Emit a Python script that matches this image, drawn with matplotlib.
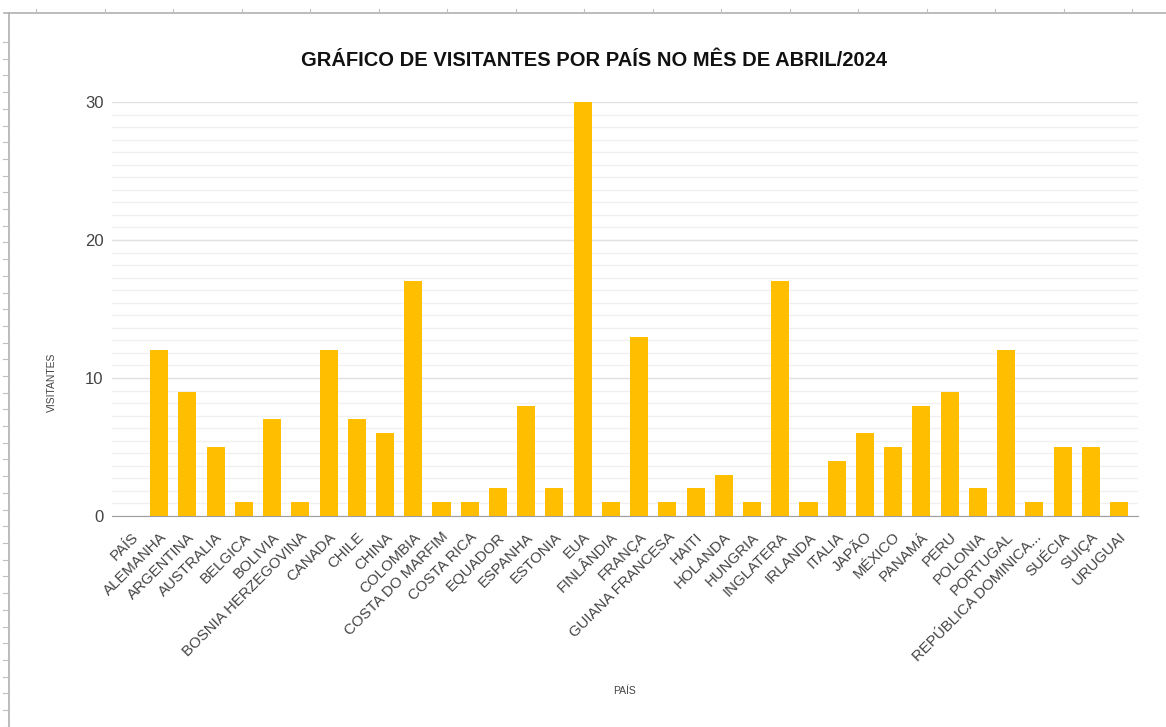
import matplotlib.pyplot as plt
from matplotlib.ticker import MultipleLocator, AutoMinorLocator
from matplotlib.lines import Line2D

plt.rcParams['font.family'] = ['Liberation Sans', 'DejaVu Sans']

# Dados
paises = ['PAÍS', 'ALEMANHA', 'ARGENTINA', 'AUSTRALIA', 'BELGICA', 'BOLIVIA',
          'BOSNIA HERZEGOVINA', 'CANADA', 'CHILE', 'CHINA', 'COLOMBIA',
          'COSTA DO MARFIM', 'COSTA RICA', 'EQUADOR', 'ESPANHA', 'ESTONIA',
          'EUA', 'FINLÂNDIA', 'FRANÇA', 'GUIANA FRANCESA', 'HAITI', 'HOLANDA',
          'HUNGRIA', 'INGLATERA', 'IRLANDA', 'ITALIA', 'JAPÃO', 'MÉXICO',
          'PANAMÁ', 'PERU', 'POLONIA', 'PORTUGAL', 'REPÚBLICA DOMINICA...',
          'SUÉCIA', 'SUIÇA', 'URUGUAI']
visitantes = [0, 12, 9, 5, 1, 7, 1, 12, 7, 6, 17, 1, 1, 2, 8, 2, 30, 1, 13, 1,
              2, 3, 1, 17, 1, 4, 6, 5, 8, 9, 2, 12, 1, 5, 5, 1]

W, H = 1166, 727
fig = plt.figure(figsize=(W / 100, H / 100), dpi=100)
ax = fig.add_axes([112 / W, 1 - 516 / H, (1138 - 112) / W, (516 - 102) / H])

x = range(len(paises))
ax.bar(x, visitantes, width=0.64, color='#ffbf00', zorder=3)

ax.set_xlim(-0.67, len(paises) - 1 + 0.67)
ax.set_ylim(0, 30)
ax.yaxis.set_major_locator(MultipleLocator(10))
ax.yaxis.set_minor_locator(AutoMinorLocator(11))
ax.grid(axis='y', which='major', color='#e0e0e0', linewidth=1, zorder=0)
ax.grid(axis='y', which='minor', color='#f0f0f0', linewidth=1, zorder=0)

for s in ['top', 'right', 'left']:
    ax.spines[s].set_visible(False)
ax.spines['bottom'].set_color('#9e9e9e')
ax.spines['bottom'].set_zorder(4)

ax.set_xticks(list(x))
ax.set_xticklabels(paises, rotation=45, ha='right', rotation_mode='anchor',
                   fontsize=10.8, color='#444444')
ax.tick_params(axis='x', length=0, pad=10)
ax.tick_params(axis='y', which='both', length=0, labelsize=12, labelcolor='#444444', pad=6)

# títulos
fig.text(594 / W, 1 - 60 / H, 'GRÁFICO DE VISITANTES POR PAÍS NO MÊS DE ABRIL/2024',
         ha='center', va='center', fontsize=14.5, fontweight='bold', color='#111111')
fig.text(625 / W, 1 - 691 / H, 'PAÍS', ha='center', va='center',
         fontsize=7.5, color='#444444')
fig.text(52 / W, 1 - 382 / H, 'VISITANTES', ha='center', va='center',
         rotation=90, fontsize=7.5, color='#444444')

# moldura da planilha
fig.add_artist(Line2D([4 / W, 1], [1 - 13 / H] * 2, color='#b0b0b0', linewidth=1.2))
fig.add_artist(Line2D([9 / W] * 2, [1 - 13 / H, 0], color='#b0b0b0', linewidth=1.2))
tx = 36
while tx < W:
    fig.add_artist(Line2D([tx / W] * 2, [1 - 9 / H, 1 - 13 / H], color='#c0c0c0', linewidth=0.8))
    tx += 68.5
ty = 42
while ty < H:
    fig.add_artist(Line2D([3 / W, 9 / W], [1 - ty / H] * 2, color='#c0c0c0', linewidth=0.8))
    ty += 16.7

fig.savefig('out.png', dpi=100)
